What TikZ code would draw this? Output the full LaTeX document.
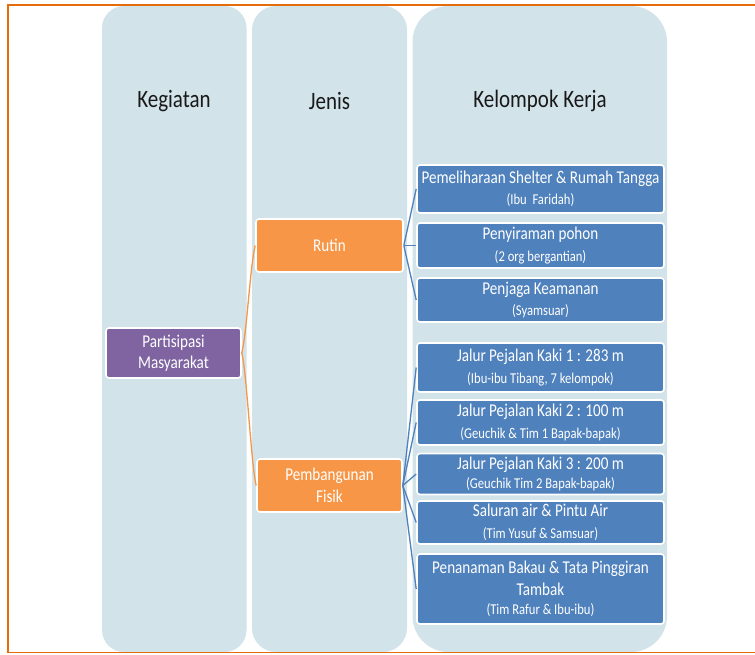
\documentclass[tikz,border=0pt]{standalone}
\usepackage{fontspec}
\setmainfont{Carlito}[FakeStretch=0.84]
\definecolor{colbg}{HTML}{D2E3EA}
\definecolor{frameor}{HTML}{E46C0A}
\definecolor{purp}{HTML}{8064A2}
\definecolor{oran}{HTML}{F79646}
\definecolor{blu}{HTML}{4F81BD}
\begin{document}
\begin{tikzpicture}[x=1pt,y=-1pt,
  colbox/.style={fill=colbg,draw=none},
  hdr/.style={font=\fontsize{25}{29}\selectfont,text=black!90},
  box/.style={draw=white,line width=1.6pt,rounded corners=3pt,text=white,align=center,inner sep=1pt,font=\fontsize{18}{21.5}\selectfont},
  pbox/.style={box,fill=purp},
  obox/.style={box,fill=oran},
  bbox/.style={box,fill=blu,minimum width=247pt},
  oline/.style={draw=oran,line width=1.3pt},
  bline/.style={draw=blu,line width=1.3pt}]
\useasboundingbox (0,0) rectangle (755,654);
\fill[white] (0,0) rectangle (755,654);
% columns
\fill[colbox,rounded corners=22pt] (102,6) rectangle (246.5,652);
\fill[colbox,rounded corners=24pt] (252,6) rectangle (407,652);
\fill[colbox,rounded corners=36pt] (412.5,6) rectangle (667,652);
% frame
\draw[frameor,line width=1.8pt] (760,5) -- (8,5) -- (8,652.5) -- (760,652.5);
% headers
\node[hdr] (h1) at (174,101) {Kegiatan};
\node[hdr] (h2) at (329.5,101) {Jenis};
\node[hdr] (h3) at (540,101) {Kelompok Kerja};
% level 1
\node[pbox,minimum width=135pt,minimum height=50pt] (p) at (173.5,353) {Partisipasi\\Masyarakat};
% level 2
\node[obox,minimum width=147pt,minimum height=53pt] (r) at (329.5,245.5) {Rutin};
\node[obox,minimum width=145pt,minimum height=53pt] (f) at (329.5,485.5) {Pembangunan\\Fisik};
% level 3
\newcommand\subt[1]{{\fontsize{15}{18}\selectfont #1}}
\node[bbox,minimum height=48pt] (b1) at (540.5,189) {Pemeliharaan Shelter \& Rumah Tangga\\\subt{(Ibu\ \ Faridah)}};
\node[bbox,minimum height=45pt] (b2) at (540.5,245.5) {Penyiraman pohon\\\subt{(2 org bergantian)}};
\node[bbox,minimum height=44pt] (b3) at (540.5,300) {Penjaga Keamanan\\\subt{(Syamsuar)}};
\node[bbox,minimum height=49pt] (b4) at (540.5,367.5) {Jalur Pejalan Kaki 1 : 283 m\\\subt{(Ibu-ibu Tibang, 7 kelompok)}};
\node[bbox,minimum height=45pt] (b5) at (540.5,422.5) {Jalur Pejalan Kaki 2 : 100 m\\\subt{(Geuchik \& Tim 1 Bapak-bapak)}};
\node[bbox,minimum height=41pt] (b6) at (540.5,474) {Jalur Pejalan Kaki 3 : 200 m\\[-3pt]\subt{(Geuchik Tim 2 Bapak-bapak)}};
\node[bbox,minimum height=43pt] (b7) at (540.5,522.5) {Saluran air \& Pintu Air\\\subt{(Tim Yusuf \& Samsuar)}};
\node[bbox,minimum height=70pt] (b8) at (540.5,589) {Penanaman Bakau \& Tata Pinggiran\\Tambak\\[-2pt]\subt{(Tim Rafur \& Ibu-ibu)}};
% connectors
\draw[oline] (p.east) .. controls +(5,-20) and +(-5,20) .. (r.west);
\draw[oline] (p.east) .. controls +(5,20) and +(-5,-20) .. (f.west);
\foreach \t in {b1,b2,b3} \draw[bline] (r.east) -- (\t.west);
\foreach \t in {b4,b5,b6,b7,b8} \draw[bline] (f.east) -- (\t.west);
\end{tikzpicture}
\end{document}
